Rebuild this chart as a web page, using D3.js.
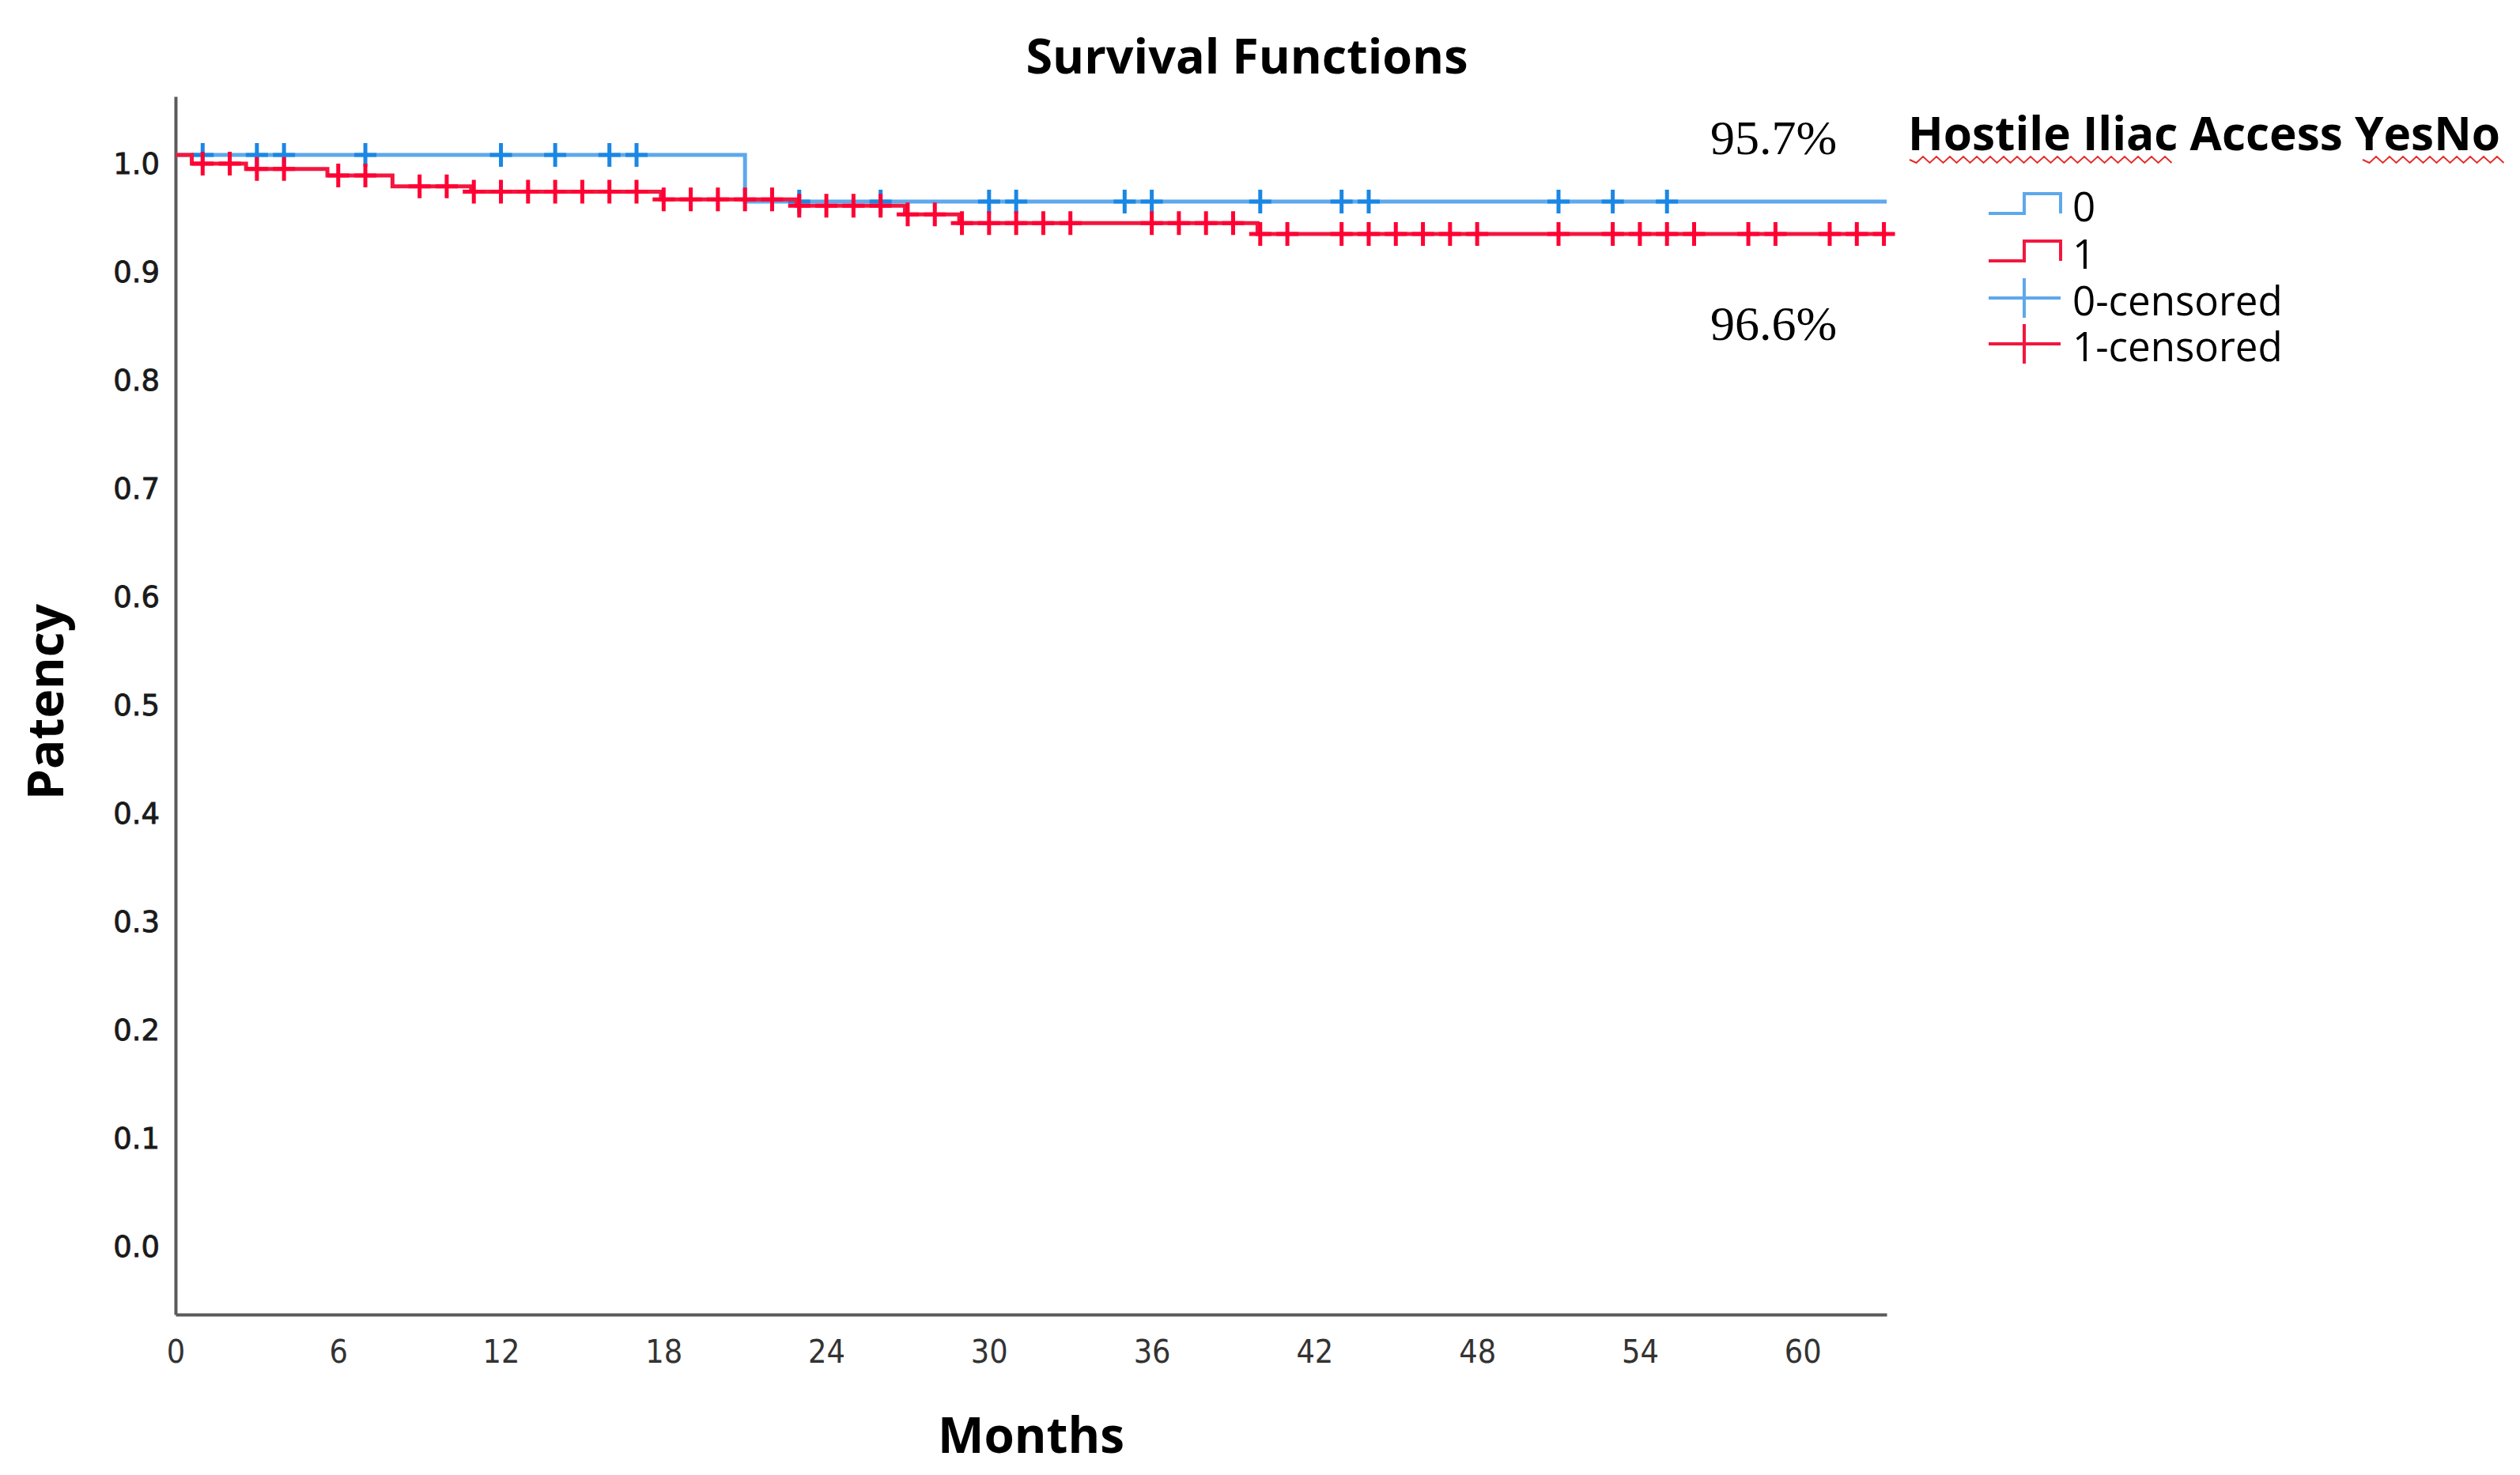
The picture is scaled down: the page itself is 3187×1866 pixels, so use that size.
<!DOCTYPE html>
<html>
<head>
<meta charset="utf-8">
<script src="https://cdn.jsdelivr.net/npm/d3@7"></script>
<style>
  body { margin: 0; background: #fff; }
  text { font-family: "Open Sans", "DejaVu Sans", sans-serif; }
</style>
</head>
<body>
<div id="chart"></div>
<script>
// tick labels
var monthTicks = [0, 6, 12, 18, 24, 30, 36, 42, 48, 54, 60];
var patencyTicks = [0, 0.1, 0.2, 0.3, 0.4, 0.5, 0.6, 0.7, 0.8, 0.9, 1.0];

// group 0 (hostile iliac access = no)
var group0StepTimes = [0, 21];
var group0Surv = [1.0, 0.957];
var group0Censored = [1, 3, 4, 7, 12, 14, 16, 17, 23, 26, 30, 31, 35, 36, 40, 43, 44, 51, 53, 55];

// group 1 (hostile iliac access = yes)
var group1StepTimes = [0, 0.6, 2.6, 5.6, 8.0, 10.9, 17.9, 22.9, 26.9, 28.9, 39.9];
var group1Surv = [1.0, 0.992, 0.987, 0.981, 0.971, 0.966, 0.959, 0.953, 0.945, 0.937, 0.927];
var group1Censored = [1, 2, 3, 4, 6, 7, 9, 10, 11, 12, 13, 14, 15, 16, 17, 18, 19, 20, 21, 22, 23,
  24, 25, 26, 27, 28, 29, 30, 31, 32, 33, 36, 37, 38, 39, 40, 41, 43, 44, 45, 46, 47, 48,
  51, 53, 54, 55, 56, 58, 59, 61, 62, 63];

var followUpEnd = 63.1;
var legendLabels = ["0", "1", "0-censored", "1-censored"];
var rateLabels = ["95.7%", "96.6%"];

var margin = {top: 122, left: 222},
    width = 2164,
    height = 1541;

var blueLine = "#5ea8eb", blueMark = "#1a87e4",
    redLine = "#f2173f", redMark = "#ff0033",
    axisColor = "#5a5a5a";

var x = d3.scaleLinear()
    .domain([0, followUpEnd])
    .range([0, width]);

var y = d3.scaleLinear()
    .domain([-0.0708, 1.054])
    .range([height, 0]);

var svg = d3.select("#chart").append("svg")
    .attr("width", 3187)
    .attr("height", 1866)
    .style("background", "#fff");

var g = svg.append("g")
    .attr("transform", "translate(" + margin.left + "," + margin.top + ")");

// axes
var yAxis = d3.axisLeft(y)
    .tickValues(patencyTicks)
    .tickSize(0)
    .tickSizeOuter(0)
    .tickPadding(20)
    .tickFormat(d3.format(".1f"));

var xAxis = d3.axisBottom(x)
    .tickValues(monthTicks)
    .tickSize(0)
    .tickSizeOuter(0)
    .tickPadding(32);

var gy = g.append("g").call(yAxis);
gy.select(".domain").attr("stroke", axisColor).attr("stroke-width", 4);
gy.selectAll("text")
    .attr("dy", "0.63em")
    .style("font-family", "'DejaVu Sans', sans-serif")
    .style("font-size", "37px")
    .attr("fill", "#1a1a1a")
    .attr("stroke", "#1a1a1a")
    .attr("stroke-width", 0.8);

var gx = g.append("g")
    .attr("transform", "translate(0," + height + ")")
    .call(xAxis);
gx.select(".domain").attr("stroke", axisColor).attr("stroke-width", 4);
gx.selectAll("text")
    .style("font-family", "'DejaVu Sans Condensed', 'DejaVu Sans', sans-serif")
    .style("font-size", "41px")
    .attr("fill", "#333");

// survival curves
function stepPoints(times, surv) {
  var pts = times.map(function(t, i) { return [t, surv[i]]; });
  pts.push([followUpEnd, surv[surv.length - 1]]);
  return pts;
}

function survAt(times, surv, t) {
  var s = surv[0];
  for (var i = 0; i < times.length; i++) {
    if (times[i] <= t) s = surv[i];
  }
  return s;
}

var line = d3.line()
    .x(function(d) { return x(d[0]); })
    .y(function(d) { return y(d[1]); })
    .curve(d3.curveStepAfter);

var groups = [
  {times: group0StepTimes, surv: group0Surv, cens: group0Censored, line: blueLine, mark: blueMark},
  {times: group1StepTimes, surv: group1Surv, cens: group1Censored, line: redLine, mark: redMark}
];

groups.forEach(function(grp) {
  g.append("path")
      .datum(stepPoints(grp.times, grp.surv))
      .attr("d", line)
      .attr("fill", "none")
      .attr("stroke", grp.line)
      .attr("stroke-width", 5);

  g.selectAll(null)
      .data(grp.cens)
      .enter()
      .append("path")
      .attr("transform", function(t) {
        return "translate(" + x(t) + "," + y(survAt(grp.times, grp.surv, t)) + ")";
      })
      .attr("d", "M-14,0H14M0,-15V15")
      .attr("stroke", grp.mark)
      .attr("stroke-width", 5);
});

// titles
svg.append("text")
    .attr("x", 1577)
    .attr("y", 93)
    .attr("text-anchor", "middle")
    .style("font-size", "61px")
    .style("font-weight", "bold")
    .text("Survival Functions");

svg.append("text")
    .attr("x", margin.left + width / 2)
    .attr("y", 1838)
    .attr("text-anchor", "middle")
    .style("font-size", "62px")
    .style("font-weight", "bold")
    .text("Months");

svg.append("text")
    .attr("transform", "translate(80,888) rotate(-90)")
    .attr("text-anchor", "middle")
    .style("font-size", "62px")
    .style("font-weight", "bold")
    .text("Patency");

// rate annotations
svg.selectAll(".rate")
    .data(rateLabels)
    .enter()
    .append("text")
    .attr("class", "rate")
    .attr("x", 2163)
    .attr("y", function(d, i) { return i === 0 ? 195 : 430; })
    .style("font-family", "'Liberation Serif', 'DejaVu Serif', serif")
    .style("font-size", "62px")
    .text(function(d) { return d; });

// legend
svg.append("text")
    .attr("x", 2413)
    .attr("y", 190)
    .style("font-size", "58.5px")
    .style("font-weight", "bold")
    .text("Hostile Iliac Access YesNo");

// spell-check squiggles under the legend title
function squiggle(x0, x1, yc) {
  var d = "M" + x0 + "," + yc, k = 0;
  for (var xx = x0 + 8.5; xx <= x1; xx += 8.5) {
    d += "L" + xx + "," + (yc + (k % 2 === 0 ? 4 : -4));
    k++;
  }
  return d;
}
[[2415, 2753], [2988, 3170]].forEach(function(r) {
  svg.append("path")
      .attr("d", squiggle(r[0], r[1], 202))
      .attr("fill", "none")
      .attr("stroke", "#e52b2b")
      .attr("stroke-width", 2);
});

var rowY = [280, 340, 399, 457];
var legend = svg.selectAll(".legend")
    .data(legendLabels)
    .enter()
    .append("g")
    .attr("class", "legend")
    .attr("transform", function(d, i) { return "translate(2515," + rowY[i] + ")"; });

legend.append("path")
    .attr("d", function(d, i) {
      return i < 2 ? "M0,-10H45V-35H91V-10" : "M0,-22H91M45,-47V3";
    })
    .attr("fill", "none")
    .attr("stroke", function(d, i) { return i % 2 === 0 ? blueLine : redLine; })
    .attr("stroke-width", 4);

legend.append("text")
    .attr("x", 106)
    .style("font-size", "51px")
    .text(function(d) { return d; });
</script>
</body>
</html>
